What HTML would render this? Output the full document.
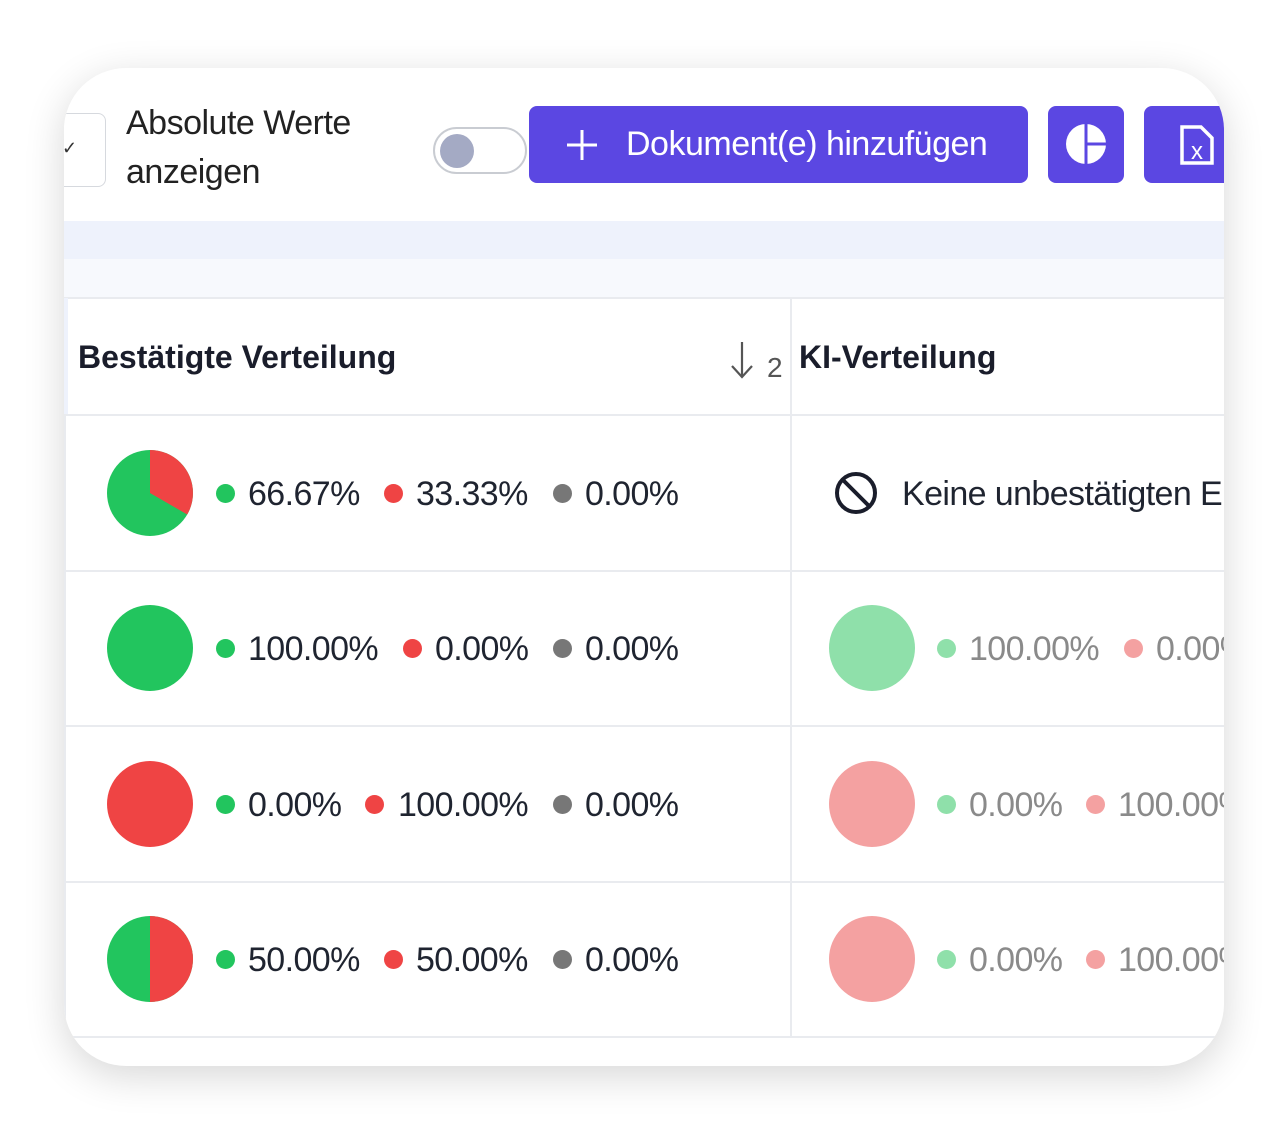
<!DOCTYPE html>
<html><head><meta charset="utf-8"><style>
*{margin:0;padding:0;box-sizing:border-box}
body{width:1288px;height:1128px;background:#fff;position:relative;overflow:hidden;font-family:"Liberation Sans",sans-serif}
.card{position:absolute;left:64px;top:68px;width:1160px;height:998px;border-radius:62px;background:#fff;overflow:hidden;box-shadow:0 10px 40px rgba(0,0,0,0.16)}
.a{position:absolute;white-space:nowrap}
.t{font-size:34px;color:#1f2430;letter-spacing:-0.6px;line-height:1}
.g{color:#8a8a8a}
.d{position:absolute;width:19px;height:19px;border-radius:50%}
.btn{position:absolute;background:#5b47e2;border-radius:8px}
.hl{position:absolute;left:0;width:1160px;height:2px;background:#e9ebef}
</style></head><body>
<div class="card">
 <div class="a" style="left:-20px;top:45px;width:62px;height:74px;border:1.5px solid #d6d9de;border-radius:8px;background:#fff"></div>
 <div class="a" style="left:-2px;top:70px;font-size:18px;color:#333">✓</div>
 <div class="a" style="left:62px;top:31px;font-size:34px;line-height:49px;color:#222;letter-spacing:-0.5px">Absolute Werte<br>anzeigen</div>
 <div class="a" style="left:369px;top:59px;width:94px;height:47px;border:2px solid #c9ccd2;border-radius:24px;background:#fff"></div>
 <div class="a" style="left:376px;top:66px;width:34px;height:34px;border-radius:50%;background:#a4aac4"></div>
 <div class="btn" style="left:465px;top:38px;width:499px;height:77px"></div>
 <svg class="a" style="left:503px;top:62px" width="30" height="30"><rect x="13.5" y="0" width="3" height="30" fill="#fff"/><rect x="0" y="13.5" width="30" height="3" fill="#fff"/></svg>
 <div class="a" style="left:562px;top:59px;font-size:34px;color:#fff;letter-spacing:-0.5px;line-height:1">Dokument(e) hinzufügen</div>
 <div class="btn" style="left:984px;top:38px;width:76px;height:77px"></div>
 <svg class="a" style="left:1001px;top:55px" width="42" height="42" viewBox="0 0 42 42"><circle cx="21" cy="21" r="20" fill="#fff"/><rect x="19.5" y="0" width="3" height="42" fill="#5b47e2"/><rect x="21" y="19.5" width="21" height="3" fill="#5b47e2"/></svg>
 <div class="btn" style="left:1080px;top:38px;width:120px;height:77px"></div>
 <svg class="a" style="left:1115px;top:57px" width="36" height="40" viewBox="0 0 36 40"><path d="M3 2 H22 L33 13 V38 H3 Z" fill="none" stroke="#fff" stroke-width="3.5"/><text x="18" y="34" font-size="24" fill="#fff" text-anchor="middle" font-family="Liberation Sans">x</text></svg>
 <div class="a" style="left:0;top:153px;width:1160px;height:38px;background:#eef2fc"></div>
 <div class="a" style="left:0;top:191px;width:1160px;height:39px;background:#f7f9fd"></div>
 <div class="hl" style="top:229px"></div>
 <div class="a" style="left:0;top:230px;width:4px;height:117px;background:#eef2fc"></div>
 <div class="a" style="left:726px;top:230px;width:2px;height:740px;background:#e9ebef"></div>
 <div class="a" style="left:0;top:347px;width:2px;height:622px;background:#e9ebef"></div>
 <div class="a" style="left:14px;top:273px;font-size:32px;font-weight:bold;color:#1a1d2b;line-height:1">Bestätigte Verteilung</div>
 <svg class="a" style="left:666px;top:272px" width="24" height="40"><line x1="12" y1="2" x2="12" y2="36" stroke="#555" stroke-width="2.2"/><polyline points="2,26 12,37 22,26" fill="none" stroke="#555" stroke-width="2.2"/></svg>
 <div class="a" style="left:703px;top:286px;font-size:28px;color:#555;line-height:1">2</div>
 <div class="a" style="left:735px;top:273px;font-size:32px;font-weight:bold;color:#1a1d2b;line-height:1">KI-Verteilung</div>
 <div class="hl" style="top:346px"></div>
 <div class="hl" style="top:502px"></div>
 <div class="hl" style="top:657px"></div>
 <div class="hl" style="top:813px"></div>
 <div class="hl" style="top:968px"></div>
</div>
<svg style="left:0;top:0;position:absolute" width="1288" height="1128">
 <circle cx="150" cy="493" r="43" fill="#22c55e"/>
 <path d="M150 493 L150 450 A43 43 0 0 1 187.2 514.5 Z" fill="#ef4444"/>
 <circle cx="150" cy="648" r="43" fill="#22c55e"/>
 <circle cx="150" cy="804" r="43" fill="#ef4444"/>
 <circle cx="150" cy="959" r="43" fill="#22c55e"/>
 <path d="M150 916 A43 43 0 0 1 150 1002 Z" fill="#ef4444"/>
 <circle cx="872" cy="648" r="43" fill="#8fe0aa"/>
 <circle cx="872" cy="804" r="43" fill="#f4a1a1"/>
 <circle cx="872" cy="959" r="43" fill="#f4a1a1"/>
 <circle cx="856" cy="493" r="19" fill="none" stroke="#1a1d2b" stroke-width="4"/>
 <line x1="843" y1="480" x2="869" y2="506" stroke="#1a1d2b" stroke-width="4"/>
</svg>
<div style="position:absolute;left:0;top:0;width:1288px;height:1128px;clip-path:inset(68px 64px 62px 64px)">
 <div class="d" style="left:216px;top:484px;background:#22c55e"></div><div class="a t" style="left:248px;top:477px">66.67%</div>
 <div class="d" style="left:384px;top:484px;background:#ef4444"></div><div class="a t" style="left:416px;top:477px">33.33%</div>
 <div class="d" style="left:553px;top:484px;background:#777"></div><div class="a t" style="left:585px;top:477px">0.00%</div>

 <div class="d" style="left:216px;top:639px;background:#22c55e"></div><div class="a t" style="left:248px;top:632px">100.00%</div>
 <div class="d" style="left:403px;top:639px;background:#ef4444"></div><div class="a t" style="left:435px;top:632px">0.00%</div>
 <div class="d" style="left:553px;top:639px;background:#777"></div><div class="a t" style="left:585px;top:632px">0.00%</div>

 <div class="d" style="left:216px;top:795px;background:#22c55e"></div><div class="a t" style="left:248px;top:788px">0.00%</div>
 <div class="d" style="left:365px;top:795px;background:#ef4444"></div><div class="a t" style="left:398px;top:788px">100.00%</div>
 <div class="d" style="left:553px;top:795px;background:#777"></div><div class="a t" style="left:585px;top:788px">0.00%</div>

 <div class="d" style="left:216px;top:950px;background:#22c55e"></div><div class="a t" style="left:248px;top:943px">50.00%</div>
 <div class="d" style="left:384px;top:950px;background:#ef4444"></div><div class="a t" style="left:416px;top:943px">50.00%</div>
 <div class="d" style="left:553px;top:950px;background:#777"></div><div class="a t" style="left:585px;top:943px">0.00%</div>

 <div class="a t" style="left:902px;top:477px">Keine unbestätigten Einträge</div>
 <div class="d" style="left:937px;top:639px;background:#8fe0aa"></div><div class="a t g" style="left:969px;top:632px">100.00%</div>
 <div class="d" style="left:1124px;top:639px;background:#f4a1a1"></div><div class="a t g" style="left:1156px;top:632px">0.00%</div>
 <div class="d" style="left:937px;top:795px;background:#8fe0aa"></div><div class="a t g" style="left:969px;top:788px">0.00%</div>
 <div class="d" style="left:1086px;top:795px;background:#f4a1a1"></div><div class="a t g" style="left:1118px;top:788px">100.00%</div>
 <div class="d" style="left:937px;top:950px;background:#8fe0aa"></div><div class="a t g" style="left:969px;top:943px">0.00%</div>
 <div class="d" style="left:1086px;top:950px;background:#f4a1a1"></div><div class="a t g" style="left:1118px;top:943px">100.00%</div>
</div>
</body></html>
